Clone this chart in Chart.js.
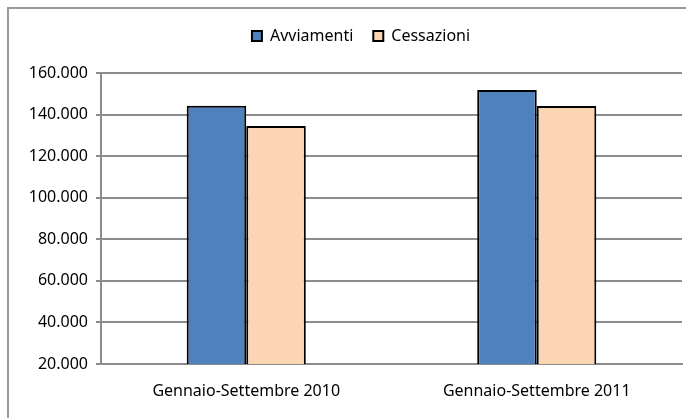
<!DOCTYPE html>
<html>
<head>
<meta charset="utf-8">
<script src="https://cdn.jsdelivr.net/npm/chart.js@4/dist/chart.umd.min.js"></script>
<style>
html,body{margin:0;padding:0;background:#fff;}
#wrap{position:relative;width:686px;height:418px;}
</style>
</head>
<body>
<div id="wrap"><canvas id="c" width="686" height="418"></canvas></div>
<script>
const categories = ["Gennaio-Settembre 2010", "Gennaio-Settembre 2011"];
const seriesNames = ["Avviamenti", "Cessazioni"];
const avviamenti = [144200, 151800];
const cessazioni = [134500, 144100];
const yTicks = [20000, 40000, 60000, 80000, 100000, 120000, 140000, 160000];

const FONT = "'Noto Sans', sans-serif";
function fmt(v){ return String(v).replace(/\B(?=(\d{3})+(?!\d))/g, '.'); }

const frame = {
  id: 'frame',
  beforeDraw(chart){
    const ctx = chart.ctx;
    ctx.save();
    ctx.strokeStyle = '#9a9a9a';
    ctx.lineWidth = 2;
    ctx.beginPath();
    ctx.moveTo(8, 430); ctx.lineTo(8, 8); ctx.lineTo(700, 8);
    ctx.stroke();
    ctx.restore();
  }
};
const legendSpace = {
  id: 'legendSpace',
  beforeInit(chart){
    const orig = chart.legend.fit;
    chart.legend.fit = function(){ orig.call(this); this.height += 19; };
  },
  afterLayout(chart){
    chart.legend.left += 20;
    chart.legend.right += 20;
  }
};

new Chart(document.getElementById('c'), {
  type: 'bar',
  data: {
    labels: categories,
    datasets: [
      { label: seriesNames[0], data: avviamenti, backgroundColor: '#4F81BD', borderColor: '#000', borderWidth: 2 },
      { label: seriesNames[1], data: cessazioni, backgroundColor: '#FCD5B5', borderColor: '#000', borderWidth: 2 }
    ]
  },
  plugins: [frame, legendSpace],
  options: {
    responsive: false,
    animation: false,
    layout: { padding: { top: 8, right: 4, bottom: 0, left: 0 } },
    datasets: { bar: { categoryPercentage: 0.41, barPercentage: 1.0 } },
    plugins: {
      legend: {
        position: 'top',
        labels: { font: { family: FONT, size: 16 }, color: '#000', boxWidth: 10, boxHeight: 10, padding: 20 }
      },
      tooltip: { enabled: false }
    },
    scales: {
      x: {
        grid: { display: false, drawTicks: false },
        border: { display: true, color: '#8c8c8c', width: 2 },
        ticks: { font: { family: FONT, size: 16 }, color: '#000', padding: 18, maxRotation: 0 },
        afterFit(s){ s.height = 54; }
      },
      y: {
        min: 20000, max: 160000,
        afterBuildTicks(s){ s.ticks = yTicks.map(v => ({ value: v })); },
        grid: { color: '#8c8c8c', lineWidth: 2, tickLength: 5, drawTicks: true },
        border: { display: true, color: '#8c8c8c', width: 2 },
        ticks: { font: { family: FONT, size: 16 }, color: '#000', padding: 8, callback: v => fmt(v) },
        afterFit(s){ s.width = 101; }
      }
    }
  }
});
</script>
</body>
</html>
